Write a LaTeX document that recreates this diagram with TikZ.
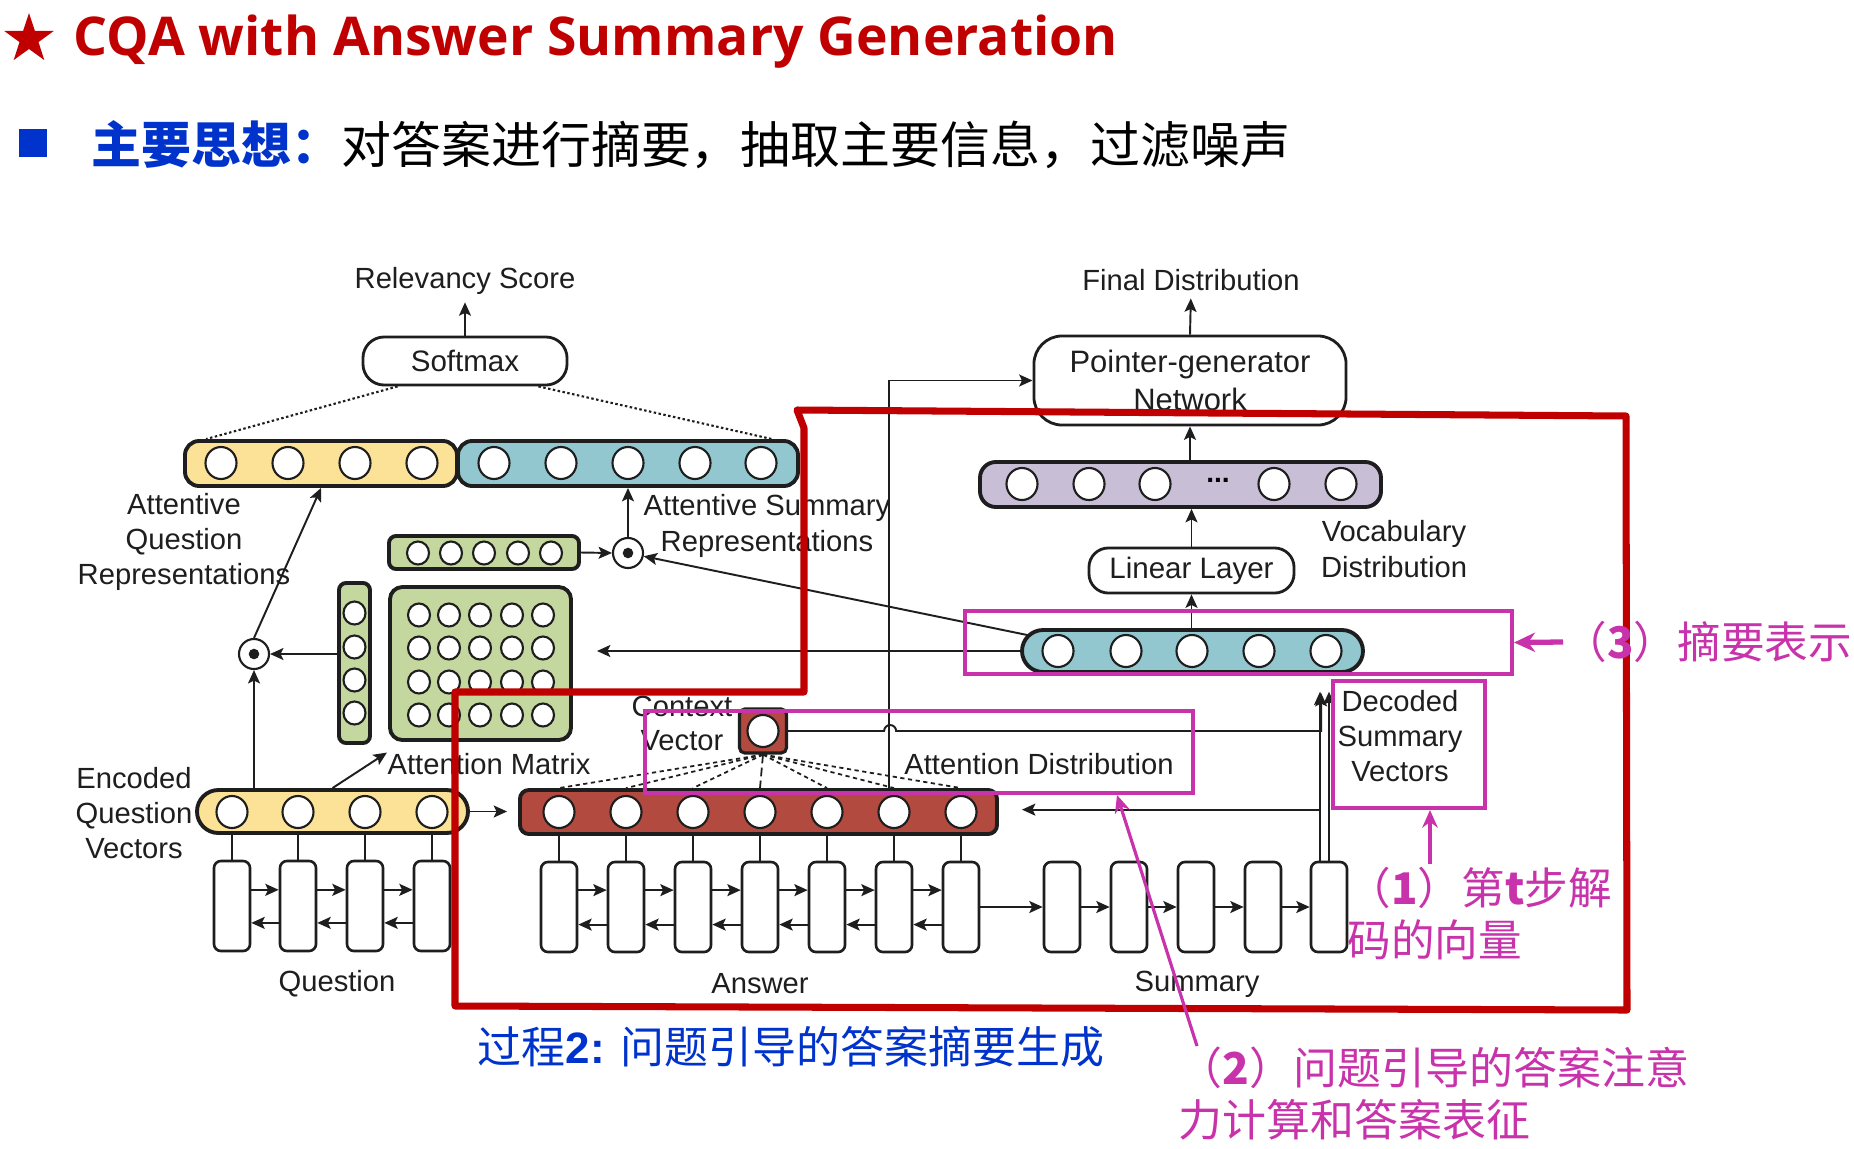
\documentclass[tikz,border=0pt]{standalone}
\usepackage{fontspec}
\setmainfont{Liberation Sans}
\newfontfamily\cjk{Noto Sans CJK SC}
\newfontfamily\titlefont{Open Sans}
\usetikzlibrary{shapes.geometric,arrows.meta,fit,calc}
\newcommand\pxu{0.2845pt}
\definecolor{cred}{RGB}{192,0,0}
\definecolor{cblue}{RGB}{0,51,204}
\definecolor{cpink}{RGB}{200,50,170}
\definecolor{yel}{RGB}{252,226,150}
\definecolor{tea}{RGB}{147,199,207}
\definecolor{grn}{RGB}{196,215,158}
\definecolor{brn}{RGB}{178,74,64}
\definecolor{lav}{RGB}{200,190,214}
\definecolor{ink}{RGB}{30,30,30}
\begin{document}
\begin{tikzpicture}[x=0.01cm,y=-0.01cm,
  lbl/.style={font=\fontsize{8.3}{10}\selectfont, text=ink, inner sep=0, align=center},
  bar/.style={draw=ink, line width=1.1pt, inner sep=0},
  cir/.style={ellipse, draw=ink, fill=white, line width=0.6pt, inner sep=0, minimum width=31*\pxu, minimum height=32*\pxu},
  scir/.style={cir, minimum width=22*\pxu, minimum height=23*\pxu},
  cell/.style={draw=ink, fill=white, line width=0.75pt, rounded corners=2pt, inner sep=0, minimum width=36*\pxu, minimum height=90*\pxu},
  conn/.style={draw=ink, line width=0.55pt},
  arr/.style={conn, -{Stealth[length=3.8pt,width=3.4pt,inset=0.8pt]}},
  odot/.style={circle, draw=ink, fill=white, line width=0.6pt, minimum size=30*\pxu, inner sep=0},
  rbox/.style={draw=ink, fill=white, line width=0.8pt, inner sep=0, font=\fontsize{8.4}{10}\selectfont, text=ink},
  dotline/.style={draw=ink, line width=0.6pt, dash pattern=on 0.7pt off 0.7pt},
  fan/.style={draw=ink, line width=0.5pt, dash pattern=on 1.2pt off 1pt},
  pbox/.style={draw=cpink, line width=1.15pt, inner sep=0},
  parr/.style={draw=cpink, line width=0.9pt, -{Stealth[length=5pt,width=4.4pt]}},
  parrT/.style={draw=cpink, line width=1.5pt, -{Stealth[length=6pt,width=5.5pt]}},
  plab/.style={font=\cjk\fontsize{12.4}{14.8}\selectfont, text=cpink, inner sep=0}
]
\useasboundingbox (0,0) rectangle (1854,1148);
\fill[white] (0,0) rectangle (1854,1148);

% ---------- header ----------
\node[star, star points=5, star point ratio=2.6, fill=cred, inner sep=0, minimum size=52*\pxu] (star) at (29,39) {};
\node[anchor=base west, inner sep=0, text=cred, font=\titlefont\bfseries\fontsize{15.2}{18}\selectfont] (title) at (73,55) {CQA with Answer Summary Generation};
\node[fill=cblue, inner sep=0, minimum size=28*\pxu] (bullet) at (33,143) {};
\node[anchor=west, inner sep=0, font=\cjk\fontsize{14.2}{17}\selectfont] (idea) at (91,145) {{\color{cblue}\bfseries 主要思想：}对答案进行摘要，抽取主要信息，过滤噪声};

% ---------- left top ----------
\node[lbl] (relv) at (465,281) {Relevancy Score};
\node[rbox, rounded corners=6pt, minimum width=204*\pxu, minimum height=48*\pxu] (smax) at (465,361) {Softmax};
\draw[arr, shorten >=2pt] (smax.north) -- (relv.south);

\node[bar, fill=yel, rounded corners=4pt, fit={(185,441) (457,486)}] (qatt) {};
\node[bar, fill=tea, rounded corners=4pt, fit={(458,441) (798,486)}] (satt) {};
\foreach \x [count=\i] in {221,288,355,422} \node[cir] (qa\i) at (\x,463) {};
\foreach \x [count=\i] in {494,561,628,695,761} \node[cir] (sa\i) at (\x,463) {};
\draw[dotline] ([xshift=36*\pxu]smax.south west) -- ([xshift=23*\pxu]qatt.north west);
\draw[dotline] ([xshift=-30*\pxu]smax.south east) -- ([xshift=-28*\pxu]satt.north east);

\node[lbl] (aqr) at (184,542) {Attentive\\Question\\Representations};
\node[lbl] (asr) at (767,526) {Attentive Summary\\Representations};

% green small bar + odot2
\node[bar, fill=grn, rounded corners=2pt, fit={(389,536) (579,569)}] (gs) {};
\foreach \x [count=\i] in {418,451,484,518,551} \node[scir] (gs\i) at (\x,553) {};
\node[odot] (od2) at (628,553) {};
\fill[ink] (od2.center) circle[radius=1.5pt];
\draw[arr] (gs.east) -- (od2.west);
\draw[arr] (od2.north) -- (od2.north |- satt.south);

% green vertical, matrix, odot1
\node[bar, fill=grn, rounded corners=2pt, fit={(339,583) (370,743)}] (gv) {};
\foreach \y [count=\i] in {613,647,680,713} \node[scir] (gv\i) at (354.5,\y) {};
\node[bar, fill=grn, rounded corners=3.5pt, fit={(390,587) (571,740)}] (gm) {};
\foreach \y [count=\r] in {615,648,682,715} {
  \foreach \x [count=\c] in {419,449,480,512,543} \node[scir] (gm\r\c) at (\x,\y) {};
}
\node[odot] (od1) at (254,654) {};
\fill[ink] (od1.center) circle[radius=1.5pt];
\draw[arr] (gv.west |- od1) -- (od1.east);
\draw[arr] (od1.north) -- (qatt.south);

% encoded question
\node[bar, fill=yel, rounded corners=6.1pt, fit={(197,790) (468,833)}] (eq) {};
\foreach \x [count=\i] in {232,298,365,432} \node[cir] (eq\i) at (\x,812) {};
\draw[arr] (eq.north -| od1) -- (od1.south);
\node[lbl] (eql) at (134,813) {Encoded\\Question\\Vectors};
\node[lbl] (attm) at (489,764) {Attention Matrix};
\draw[arr] (eq.north) -- (attm.north west);

% question cells
\foreach \x [count=\i] in {232,298,365,432} {
  \node[cell] (q\i) at (\x,906) {};
  \draw[conn] (q\i.north) -- (q\i.north |- eq.south);
}
\foreach \i/\j in {1/2,2/3,3/4} {
  \draw[arr] ([yshift=4.6pt]q\i.east) -- ([yshift=4.6pt]q\j.west);
  \draw[arr] ([yshift=-4.8pt]q\j.west) -- ([yshift=-4.8pt]q\i.east);
}
\node[lbl] (ql) at (337,984) {Question};

% answer
\node[bar, fill=brn, rounded corners=2.5pt, fit={(520,790) (997,834)}] (ans) {};
\foreach \x [count=\i] in {559,626,693,760,827,894,961} {
  \node[cir] (ac\i) at (\x,812) {};
  \node[cell] (a\i) at (\x,907) {};
  \draw[conn] (a\i.north) -- (a\i.north |- ans.south);
}
\foreach \i/\j in {1/2,2/3,3/4,4/5,5/6,6/7} {
  \draw[arr] ([yshift=4.8pt]a\i.east) -- ([yshift=4.8pt]a\j.west);
  \draw[arr] ([yshift=-5pt]a\j.west) -- ([yshift=-5pt]a\i.east);
}
\draw[arr, shorten >=11*\pxu] (eq.east) -- (eq.east -| ans.west);
\node[lbl] (al) at (760,984) {Answer};

% summary
\foreach \x [count=\i] in {1062,1129,1196,1263,1329} \node[cell] (s\i) at (\x,907) {};
\draw[arr] (a7.east) -- (s1.west);
\foreach \i/\j in {1/2,2/3,3/4,4/5} \draw[arr] (s\i.east) -- (s\j.west);
\node[lbl] (sl) at (1197,984) {Summary};

% context vector
\node[bar, fill=brn, rounded corners=1.5pt, line width=0.9pt, minimum width=47*\pxu, minimum height=44*\pxu] (cv) at (763,731) {};
\node[cir] (cvc) at (763,731) {};
\node[lbl, font=\fontsize{8.3}{9.7}\selectfont] (cvl) at (682,723) {Context\\Vector};
\foreach \i in {1,2,3,5,6,7} \draw[fan] (cv.south) -- (ac\i |- ans.north);
\draw[conn, dash pattern=on 2.5pt off 1.2pt, line width=0.5pt] (cv.south) -- (ac4 |- ans.north);
\node[lbl] (attd) at (1039,764) {Attention Distribution};

% right side
\node[bar, fill=tea, rounded corners=6pt, fit={(1022,630) (1363,672)}] (dec) {};
\foreach \x [count=\i] in {1058,1126,1192,1259,1326} \node[cir] (dc\i) at (\x,651) {};
\node[rbox, rounded corners=5.5pt, minimum width=205*\pxu, minimum height=45*\pxu] (lin) at (1191.5,570.5) {Linear Layer};
\node[bar, fill=lav, rounded corners=4.5pt, fit={(980,462) (1381,507)}] (voc) {};
\foreach \x [count=\i] in {1022,1089,1155,1274,1341} \node[cir] (vc\i) at (\x,484) {};
\node[inner sep=0, font=\fontsize{8}{8}\selectfont\bfseries] (vdots) at (1218,480) {...};
\node[rbox, rounded corners=8pt, minimum width=312*\pxu, minimum height=89*\pxu, align=center, font=\fontsize{8.8}{10.8}\selectfont] (pgn) at (1190,380.5) {Pointer-generator\\Network};
\node[lbl] (fd) at (1191,280) {Final Distribution};
\draw[arr, shorten >=2pt] (pgn.north) -- (fd.south);
\draw[arr] (pgn.south |- voc.north) -- (pgn.south);
\draw[arr] (lin.north) -- (lin.north |- voc.south);
\draw[arr] (lin.south |- dec.north) -- (lin.south);
\node[lbl] (vocl) at (1394,549) {Vocabulary\\Distribution};
\node[lbl] (dsv) at (1400,736) {Decoded\\Summary\\Vectors};

% connectors across
\draw[arr, shorten >=24*\pxu] (dec.west) -- (dec.west -| gm.east);
\draw[arr] ([shift={(8*\pxu,4.5pt)}]dec.west) -- (od2);
\coordinate (pgs) at (889,790);
\draw[arr] (pgs) |- (pgn.west);
\draw[arr] (cv.east) -- ++(96,0) arc[start angle=180,end angle=0,radius=6*\pxu] -- ++(425,0) -- ++(0,-38);
\draw[arr] ([xshift=-9*\pxu]s5.north) -- ++(0,-169);
\draw[arr] (s5.north) -- ++(0,-169);
\coordinate (fb) at ([xshift=-9*\pxu, yshift=51*\pxu]s5.north);
\draw[arr, shorten >=23*\pxu] (fb) -- (fb -| ans.east);

% ---------- highlight overlays ----------
\node[pbox, fit={(965,611) (1512,674)}] (pb1) {};
\node[pbox, fit={(645,711) (1193,793)}] (pb2) {};
\node[pbox, fit={(1333,681) (1485,808)}] (pb3) {};
\draw[cred, line width=2pt, line join=round] (797,410) -- (1626,416) -- (1627,1010) -- (455,1006) -- (455,692) -- (804,692) -- (804,428) -- cycle;

\node[plab, anchor=west] (lab3) at (1563,642) {（{\bfseries 3}）摘要表示};
\draw[parrT] (lab3.west) -- (pb1.east);
\node[plab, anchor=north west, align=left] (lab1) at (1347,866) {（{\bfseries 1}）第{\bfseries t}步解\\码的向量};
\coordinate (p1s) at (1430,864);
\draw[parr] (p1s) -- (p1s |- pb3.south);
\node[plab, anchor=north west, align=left, font=\cjk\fontsize{12.5}{14.8}\selectfont] (lab2) at (1178,1046) {（{\bfseries 2}）问题引导的答案注意\\力计算和答案表征};
\coordinate (p2s) at (1197,1046);
\coordinate (p2t) at (1117,795);
\draw[parr] (p2s) -- (p2t);
\node[anchor=west, inner sep=0, text=cblue, font=\fontsize{12.5}{15}\selectfont] (proc) at (477,1047) {{\cjk 过程}\textbf{2:} {\cjk 问题引导的答案摘要生成}};
\end{tikzpicture}
\end{document}
